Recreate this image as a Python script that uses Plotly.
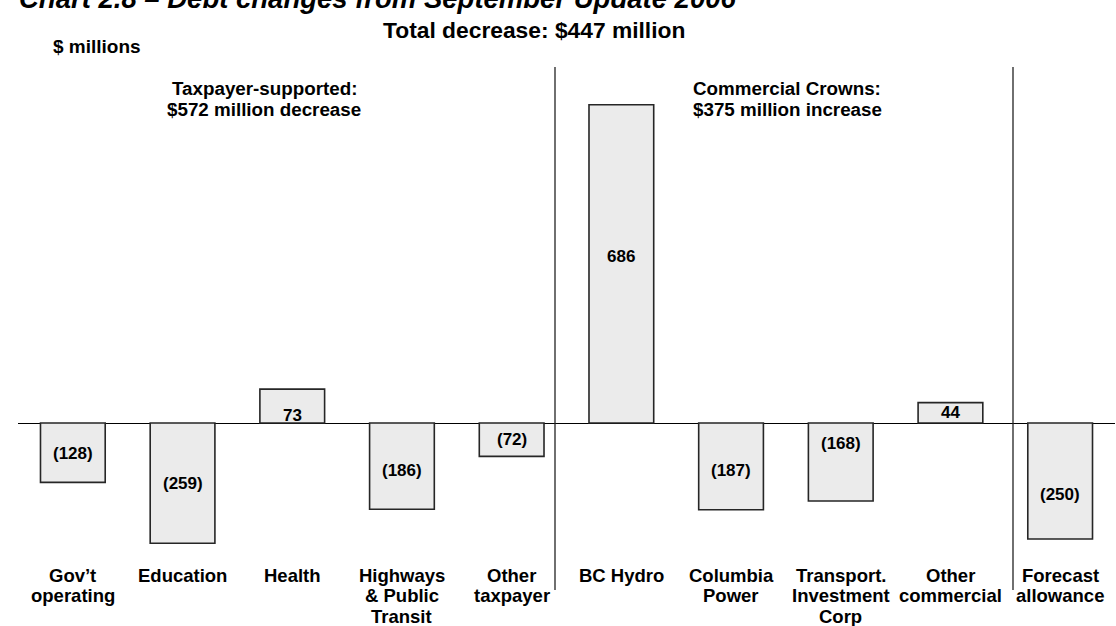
import plotly.graph_objects as go

# Debt change components, $ millions
categories = [
    "Gov’t<br>operating", "Education", "Health", "Highways<br>& Public<br>Transit",
    "Other<br>taxpayer", "BC Hydro", "Columbia<br>Power",
    "Transport.<br>Investment<br>Corp", "Other<br>commercial", "Forecast<br>allowance",
]
changes = [-128, -259, 73, -186, -72, 686, -187, -168, 44, -250]

title_text = "Chart 2.8 – Debt changes from September Update 2006"
subtitle_text = "Total decrease: $447 million"
unit_text = "$ millions"
taxpayer_lines = ["Taxpayer-supported:", "$572 million decrease"]
commercial_lines = ["Commercial Crowns:", "$375 million increase"]

# vertical nudge (px, downward) for each value label inside its bar
label_nudge = [1, 0, 9, 4, 0, -7, 4, -18, 0, 13]

FONT = "Liberation Sans, Arial, Helvetica, sans-serif"
W, H = 1116, 626
L, R, T, B = 18, 1, 60, 558          # plot area edges in pixels
ZERO, PPU = 423, 0.464               # zero-line pixel row, pixels per $ million

ymax = (ZERO - T) / PPU
ymin = -(B - ZERO) / PPU


def fx(px):
    return (px - L) / (W - L - R)


def fy(py):
    return (B - py) / (B - T)


def fmt(v):
    return f"({abs(v)})" if v < 0 else f"{v}"


fig = go.Figure(
    go.Bar(
        x=categories,
        y=changes,
        width=0.59,
        marker=dict(color="#EBEBEB", line=dict(color="#262626", width=1.6)),
        hoverinfo="skip",
    )
)

annotations = []
# value labels inside each bar
for c, v, dy in zip(categories, changes, label_nudge):
    annotations.append(dict(
        x=c, y=v / 2, xref="x", yref="y", text=f"<b>{fmt(v)}</b>",
        showarrow=False, font=dict(size=17, color="black", family=FONT),
        xanchor="center", yanchor="middle", yshift=-dy,
    ))

# category names under the bars, one line at a time for tight spacing
for c in categories:
    for k, line in enumerate(c.split("<br>")):
        annotations.append(dict(
            x=c, y=fy(575 + 20.5 * k), xref="x", yref="paper",
            text=f"<b>{line}</b>", showarrow=False,
            font=dict(size=18.5, color="black", family=FONT),
            xanchor="center", yanchor="middle",
        ))


def note(text, px, py, size, xanchor="center", italic=False):
    t = f"<b><i>{text}</i></b>" if italic else f"<b>{text}</b>"
    annotations.append(dict(
        x=fx(px), y=fy(py), xref="paper", yref="paper", text=t,
        showarrow=False, font=dict(size=size, color="black", family=FONT),
        xanchor=xanchor, yanchor="middle",
    ))


note(title_text, 17, -2, 27.5, xanchor="left", italic=True)
note(subtitle_text, 534, 30, 22.8)
note(unit_text, 51, 46, 19, xanchor="left")
note(taxpayer_lines[0], 264, 88, 18.8)
note(taxpayer_lines[1], 264, 109, 18.8)
note(commercial_lines[0], 691, 88, 18.8, xanchor="left")
note(commercial_lines[1], 691, 109, 18.8, xanchor="left")

shapes = []
for sx in (555, 1013):
    shapes.append(dict(
        type="line", xref="paper", yref="paper",
        x0=fx(sx), x1=fx(sx), y0=fy(590), y1=fy(67),
        line=dict(color="#222222", width=1.3),
    ))

fig.update_layout(
    width=W, height=H,
    margin=dict(l=L, r=R, t=T, b=H - B, pad=0),
    paper_bgcolor="white", plot_bgcolor="white",
    showlegend=False,
    font=dict(family=FONT, color="black"),
    annotations=annotations,
    shapes=shapes,
    xaxis=dict(
        showgrid=False, showline=False, ticks="", showticklabels=False,
        fixedrange=True,
    ),
    yaxis=dict(
        range=[ymin, ymax], showgrid=False, showline=False,
        showticklabels=False, ticks="",
        zeroline=True, zerolinecolor="black", zerolinewidth=1.2,
        fixedrange=True,
    ),
)

fig.write_html("out.html", config={"displayModeBar": False})
